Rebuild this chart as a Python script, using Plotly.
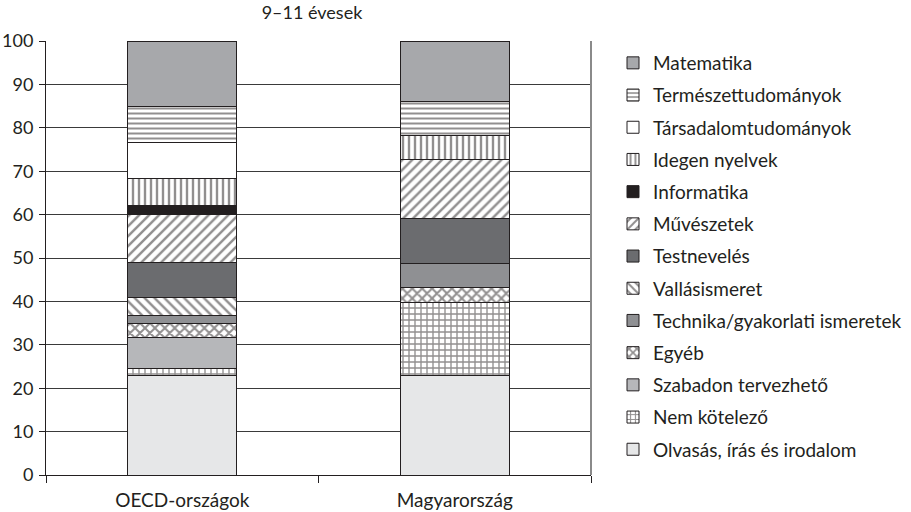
import plotly.graph_objects as go

# Instruction time share by subject, ages 9-11 (percent of total)
countries = ["OECD-országok", "Magyarország"]

# Subjects listed from the bottom of each stack to the top
subjects = [
    "Olvasás, írás és irodalom",
    "Nem kötelező",
    "Szabadon tervezhető",
    "Egyéb",
    "Technika/gyakorlati ismeretek",
    "Vallásismeret",
    "Testnevelés",
    "Művészetek",
    "Informatika",
    "Idegen nyelvek",
    "Társadalomtudományok",
    "Természettudományok",
    "Matematika",
]

oecd_values = [22.9, 1.7, 7.1, 3.1, 1.9, 4.1, 8.2, 11.1, 2.0, 6.2, 8.4, 8.1, 15.2]
hungary_values = [22.9, 16.9, None, 3.5, 5.5, None, 10.4, 13.5, None, 5.6, None, 7.7, 14.0]

y_ticks = list(range(0, 101, 10))

INK = "#231f20"

# Fill style per subject: (background colour, pattern shape, pattern size, solidity)
styles = {
    "Olvasás, írás és irodalom": ("#e6e7e8", "", 0, 0),
    "Nem kötelező": ("#ffffff", "+", 6, 0.4),
    "Szabadon tervezhető": ("#b6b7ba", "", 0, 0),
    "Egyéb": ("#ffffff", "x", 7, 0.5),
    "Technika/gyakorlati ismeretek": ("#8f9093", "", 0, 0),
    "Vallásismeret": ("#ffffff", "\\", 7, 0.35),
    "Testnevelés": ("#6b6c6f", "", 0, 0),
    "Művészetek": ("#ffffff", "/", 7, 0.35),
    "Informatika": (INK, "", 0, 0),
    "Idegen nyelvek": ("#ffffff", "|", 6, 0.4),
    "Társadalomtudományok": ("#ffffff", "", 0, 0),
    "Természettudományok": ("#ffffff", "-", 5, 0.4),
    "Matematika": ("#a7a8ab", "", 0, 0),
}

FONT = "Lato, 'Open Sans', sans-serif"

fig = go.Figure()
n = len(subjects)
for i, name in enumerate(subjects):
    bg, shape, size, solidity = styles[name]
    pattern = dict(shape=shape)
    if shape:
        pattern.update(fgcolor=INK, bgcolor=bg, size=size, solidity=solidity, fillmode="overlay")
    fig.add_trace(
        go.Bar(
            name=name,
            x=countries,
            y=[oecd_values[i], hungary_values[i]],
            legendgroup=name,
            legendrank=100 + (n - i),
            marker=dict(color=bg, line=dict(color=INK, width=1), pattern=pattern),
            width=0.4,
        )
    )

fig.update_layout(
    barmode="stack",
    width=911,
    height=512,
    margin=dict(l=46, r=320, t=41, b=37, autoexpand=False),
    paper_bgcolor="white",
    plot_bgcolor="white",
    font=dict(family=FONT, size=19, color=INK),
    title=dict(
        text="9–11 évesek",
        x=312 / 911,
        xref="container",
        xanchor="center",
        y=1 - 13 / 512,
        yref="container",
        yanchor="middle",
        font=dict(size=18, color=INK),
    ),
    legend=dict(
        traceorder="grouped",
        tracegroupgap=4.5,
        x=613 / 911,
        xref="container",
        xanchor="left",
        y=1 - 44 / 512,
        yref="container",
        yanchor="top",
        maxheight=470,
        font=dict(size=19, color=INK),
        bgcolor="rgba(0,0,0,0)",
        itemwidth=30,
    ),
    xaxis=dict(
        showline=True,
        linecolor=INK,
        linewidth=1,
        ticks="outside",
        tickson="boundaries",
        ticklen=7,
        tickcolor=INK,
        showgrid=False,
        ticklabelstandoff=8,
        automargin=False,
    ),
    yaxis=dict(
        range=[0, 100],
        tickvals=y_ticks,
        showline=True,
        linecolor=INK,
        linewidth=1,
        ticks="outside",
        ticklen=6,
        tickcolor=INK,
        showgrid=True,
        gridcolor="#3a3a3a",
        gridwidth=1,
        zeroline=False,
        ticklabelstandoff=2,
        automargin=False,
        tickfont=dict(size=18),
    ),
)

# Light frame on the right-hand edge of the plotting area
fig.add_shape(
    type="line", xref="paper", yref="paper", x0=1, x1=1, y0=0, y1=1,
    line=dict(color="#8a8a8a", width=2),
)

fig.write_html("out.html")
